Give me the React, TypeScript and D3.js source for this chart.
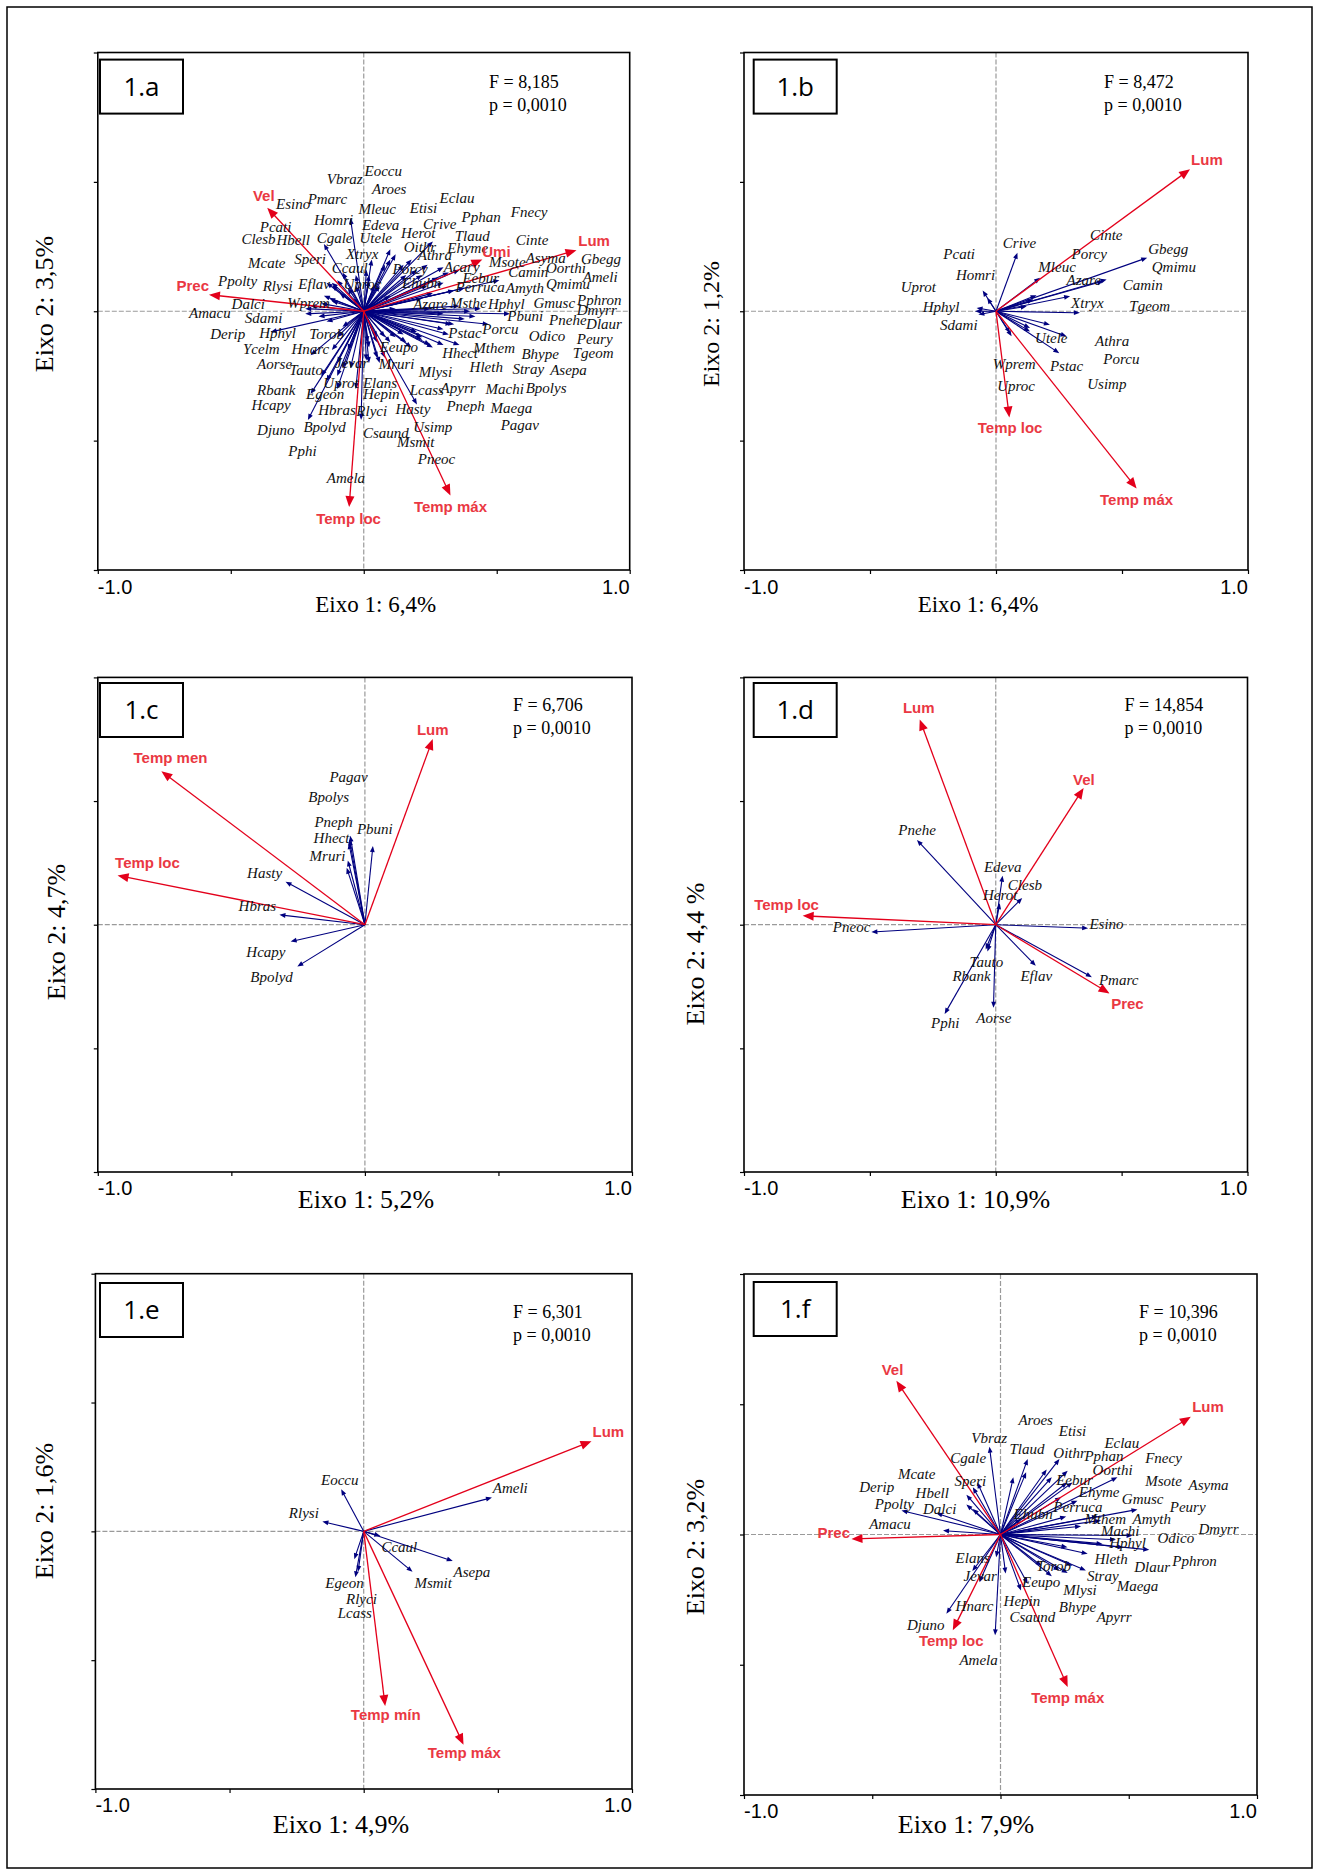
import React, { useRef, useEffect } from 'react';
import * as d3 from 'd3';

// [species, arrow x, arrow y, label x, label y] in axis units (-1..1)
type Sp = [string, number, number, number, number];
// [variable, arrow x, arrow y, label centre x, label centre y]
type Env = [string, number, number, number, number];

const spA: Sp[] = [
  ['Eoccu', 0.02, 0.12, 0.003, 0.542], ['Vbraz', -0.03, 0.14, -0.139, 0.514],
  ['Aroes', 0.04, 0.10, 0.031, 0.472], ['Esino', -0.10, 0.12, -0.330, 0.414],
  ['Pmarc', -0.08, 0.15, -0.211, 0.436], ['Mleuc', 0.01, 0.16, -0.020, 0.395],
  ['Homri', -0.05, 0.36, -0.187, 0.353], ['Edeva', 0.03, 0.20, -0.007, 0.334],
  ['Pcati', -0.12, 0.10, -0.391, 0.326], ['Clesb', -0.14, 0.11, -0.460, 0.281],
  ['Hbell', -0.15, 0.06, -0.328, 0.275], ['Cgale', -0.15, 0.26, -0.177, 0.285],
  ['Utele', 0.02, 0.14, -0.016, 0.283], ['Xtryx', -0.03, 0.10, -0.067, 0.223],
  ['Mcate', -0.13, 0.05, -0.435, 0.186], ['Speri', -0.09, 0.07, -0.261, 0.202],
  ['Ccaul', -0.06, 0.09, -0.120, 0.169], ['Ppolty', -0.16, 0.03, -0.548, 0.118],
  ['Rlysi', -0.12, 0.04, -0.380, 0.098], ['Eflav', -0.12, 0.11, -0.246, 0.107],
  ['Uproc', -0.04, 0.05, -0.076, 0.105], ['Dalci', -0.22, 0.01, -0.497, 0.030],
  ['Wprem', -0.20, 0.02, -0.288, 0.034], ['Amacu', -0.22, -0.01, -0.657, -0.005],
  ['Sdami', -0.17, -0.02, -0.447, -0.024], ['Derip', -0.14, -0.04, -0.577, -0.086],
  ['Hphyl', -0.35, -0.08, -0.393, -0.084], ['Torob', -0.08, -0.06, -0.205, -0.086],
  ['Ycelm', -0.10, -0.10, -0.454, -0.145], ['Hnarc', -0.20, -0.17, -0.272, -0.143],
  ['Aorse', -0.12, -0.15, -0.401, -0.202], ['Tauto', -0.10, -0.20, -0.280, -0.227],
  ['Jevar', -0.06, -0.15, -0.108, -0.198], ['Mruri', 0.02, -0.14, 0.056, -0.204],
  ['Eeupo', 0.05, -0.10, 0.060, -0.137], ['Rbank', -0.14, -0.27, -0.401, -0.304],
  ['Uprot', -0.10, -0.25, -0.152, -0.275], ['Elans', 0.01, -0.19, -0.003, -0.275],
  ['Egeon', -0.20, -0.32, -0.217, -0.320], ['Hepin', 0.015, -0.12, -0.003, -0.317],
  ['Hcapy', -0.16, -0.25, -0.422, -0.361], ['Hbras', -0.05, -0.22, -0.171, -0.381],
  ['Rlyci', -0.01, -0.42, -0.028, -0.384], ['Hasty', 0.20, -0.36, 0.119, -0.378],
  ['Djuno', -0.10, -0.30, -0.401, -0.459], ['Bpolyd', -0.21, -0.42, -0.227, -0.445],
  ['Csaund', 0.02, -0.20, -0.003, -0.468], ['Pphi', -0.08, -0.22, -0.284, -0.539],
  ['Amela', -0.03, -0.30, -0.139, -0.644], ['Usimp', 0.06, -0.20, 0.186, -0.445],
  ['Msmit', 0.05, -0.18, 0.125, -0.504], ['Pneoc', 0.08, -0.18, 0.203, -0.571],
  ['Lcass', 0.05, -0.12, 0.173, -0.304], ['Apyrr', 0.10, -0.12, 0.289, -0.297],
  ['Machi', 0.22, -0.10, 0.458, -0.300], ['Bpolys', 0.20, -0.08, 0.609, -0.294],
  ['Pneph', 0.12, -0.10, 0.311, -0.365], ['Maega', 0.16, -0.12, 0.477, -0.374],
  ['Pagav', 0.18, -0.14, 0.515, -0.439], ['Mlysi', 0.08, -0.10, 0.207, -0.234],
  ['Hleth', 0.15, -0.09, 0.398, -0.214], ['Stray', 0.22, -0.11, 0.559, -0.223],
  ['Asepa', 0.25, -0.13, 0.701, -0.227], ['Hhect', 0.30, -0.13, 0.295, -0.159],
  ['Mthem', 0.36, -0.13, 0.412, -0.140], ['Bhype', 0.26, -0.14, 0.593, -0.163],
  ['Tgeom', 0.30, -0.07, 0.786, -0.159], ['Odico', 0.34, -0.05, 0.620, -0.095],
  ['Peury', 0.32, -0.09, 0.801, -0.107], ['Pstac', 0.33, -0.05, 0.318, -0.082],
  ['Porcu', 0.47, -0.05, 0.446, -0.069], ['Pbuni', 0.55, -0.01, 0.540, -0.017],
  ['Pnehe', 0.42, -0.02, 0.697, -0.034], ['Dlaur', 0.38, -0.03, 0.836, -0.049],
  ['Azare', 0.12, 0.01, 0.186, 0.028], ['Msthe', 0.25, 0.01, 0.324, 0.034],
  ['Hphyl', 0.40, 0.00, 0.467, 0.028], ['Gmusc', 0.36, 0.02, 0.638, 0.034],
  ['Pphron', 0.44, 0.01, 0.802, 0.043], ['Dmyrr', 0.30, -0.01, 0.801, 0.005],
  ['Ehubn', 0.10, 0.06, 0.144, 0.111], ['Eebur', 0.26, 0.07, 0.371, 0.128],
  ['Perruca', 0.22, 0.05, 0.345, 0.095], ['Amyth', 0.51, 0.12, 0.534, 0.092],
  ['Qmimu', 0.34, 0.08, 0.685, 0.107], ['Ameli', 0.38, 0.09, 0.823, 0.133],
  ['Porcy', 0.06, 0.10, 0.108, 0.163], ['Acary', 0.24, 0.10, 0.301, 0.172],
  ['Camin', 0.30, 0.11, 0.543, 0.154], ['Oorthi', 0.28, 0.13, 0.685, 0.167],
  ['Athra', 0.16, 0.14, 0.203, 0.217], ['Msote', 0.32, 0.15, 0.471, 0.191],
  ['Asyma', 0.36, 0.16, 0.609, 0.208], ['Gbegg', 0.30, 0.17, 0.817, 0.202],
  ['Oithr', 0.26, 0.27, 0.150, 0.249], ['Ehyme', 0.22, 0.14, 0.314, 0.246],
  ['Cinte', 0.24, 0.18, 0.572, 0.275], ['Herot', 0.10, 0.20, 0.140, 0.304],
  ['Tlaud', 0.18, 0.20, 0.342, 0.290], ['Crive', 0.10, 0.24, 0.223, 0.339],
  ['Pphan', 0.15, 0.18, 0.368, 0.365], ['Etisi', 0.08, 0.18, 0.173, 0.401],
  ['Eclau', 0.12, 0.22, 0.285, 0.437], ['Fnecy', 0.20, 0.16, 0.553, 0.385],
];
const envA: Env[] = [
  ['Vel', -0.363, 0.40, -0.376, 0.446], ['Prec', -0.582, 0.064, -0.643, 0.098],
  ['Umi', 0.446, 0.20, 0.499, 0.230], ['Lum', 0.80, 0.236, 0.866, 0.272],
  ['Temp loc', -0.055, -0.757, -0.057, -0.802], ['Temp máx', 0.326, -0.712, 0.326, -0.755],
];

const spB: Sp[] = [
  ['Crive', 0.085, 0.226, 0.027, 0.265], ['Pcati', -0.035, 0.052, -0.209, 0.222],
  ['Homri', -0.053, 0.080, -0.159, 0.142], ['Uprot', -0.077, 0.013, -0.378, 0.094],
  ['Hphyl', -0.083, 0.0, -0.291, 0.019], ['Sdami', -0.070, -0.013, -0.222, -0.052],
  ['Cinte', 0.161, 0.062, 0.373, 0.295], ['Porcy', 0.148, 0.045, 0.300, 0.222],
  ['Mleuc', 0.175, 0.129, 0.168, 0.171], ['Azare', 0.426, 0.116, 0.280, 0.123],
  ['Gbegg', 0.600, 0.207, 0.604, 0.243], ['Qmimu', 0.439, 0.123, 0.618, 0.171],
  ['Camin', 0.294, 0.058, 0.503, 0.103], ['Xtryx', 0.122, 0.019, 0.298, 0.032],
  ['Tgeom', 0.333, -0.006, 0.529, 0.022], ['Utele', 0.214, -0.052, 0.155, -0.103],
  ['Athra', 0.280, -0.097, 0.393, -0.114], ['Porcu', 0.135, -0.065, 0.426, -0.183],
  ['Wprem', 0.062, -0.097, -0.013, -0.204], ['Pstac', 0.251, -0.162, 0.214, -0.209],
  ['Uproc', 0.056, -0.084, 0.005, -0.288], ['Usimp', 0.135, -0.078, 0.362, -0.280],
];
const envB: Env[] = [
  ['Lum', 0.770, 0.549, 0.837, 0.587], ['Temp loc', 0.053, -0.411, 0.056, -0.450],
  ['Temp máx', 0.558, -0.685, 0.558, -0.730],
];

const spC: Sp[] = [
  ['Pagav', -0.055, 0.36, -0.133, 0.597], ['Bpolys', -0.064, 0.26, -0.212, 0.517],
  ['Pneph', -0.058, 0.345, -0.189, 0.418], ['Pbuni', 0.030, 0.318, -0.030, 0.386],
  ['Hhect', -0.060, 0.33, -0.192, 0.350], ['Mruri', -0.068, 0.23, -0.207, 0.277],
  ['Hasty', -0.297, 0.174, -0.441, 0.210], ['Hbras', -0.320, 0.040, -0.473, 0.075],
  ['Hcapy', -0.278, -0.068, -0.444, -0.110], ['Bpolyd', -0.253, -0.169, -0.429, -0.210],
];
const envC: Env[] = [
  ['Lum', 0.254, 0.751, 0.254, 0.790], ['Temp men', -0.762, 0.621, -0.728, 0.676],
  ['Temp loc', -0.926, 0.199, -0.814, 0.249],
];

const spD: Sp[] = [
  ['Pnehe', -0.313, 0.343, -0.387, 0.385], ['Edeva', 0.027, 0.198, -0.047, 0.235],
  ['Clesb', 0.105, 0.108, 0.048, 0.163], ['Herot', 0.016, 0.087, -0.051, 0.123],
  ['Esino', 0.367, -0.014, 0.372, 0.004], ['Pneoc', -0.494, -0.030, -0.647, -0.010],
  ['Tauto', -0.033, -0.108, -0.104, -0.149], ['Rbank', -0.04, -0.10, -0.172, -0.205],
  ['Eflav', 0.159, -0.166, 0.098, -0.205], ['Pmarc', 0.382, -0.212, 0.410, -0.221],
  ['Pphi', -0.203, -0.361, -0.257, -0.397], ['Aorse', -0.009, -0.336, -0.077, -0.375],
];
const envD: Env[] = [
  ['Lum', -0.302, 0.830, -0.306, 0.877], ['Vel', 0.349, 0.553, 0.350, 0.587],
  ['Temp loc', -0.767, 0.036, -0.831, 0.082], ['Prec', 0.452, -0.278, 0.523, -0.320],
];

const spE: Sp[] = [
  ['Eoccu', -0.084, 0.163, -0.159, 0.200], ['Rlysi', -0.154, 0.038, -0.279, 0.072],
  ['Ameli', 0.478, 0.131, 0.481, 0.169], ['Ccaul', 0.062, -0.018, 0.066, -0.060],
  ['Asepa', 0.332, -0.115, 0.335, -0.157], ['Msmit', 0.182, -0.157, 0.189, -0.199],
  ['Egeon', -0.031, -0.178, -0.143, -0.201], ['Rlyci', -0.021, -0.157, -0.066, -0.261],
  ['Lcass', -0.035, -0.108, -0.097, -0.314],
];
const envE: Env[] = [
  ['Lum', 0.849, 0.350, 0.912, 0.388], ['Temp mín', 0.080, -0.678, 0.082, -0.713],
  ['Temp máx', 0.372, -0.828, 0.375, -0.861],
];

const spF: Sp[] = [
  ['Aroes', 0.05, 0.22, 0.070, 0.441], ['Vbraz', -0.043, 0.337, -0.114, 0.373],
  ['Tlaud', 0.106, 0.29, 0.035, 0.328], ['Cgale', -0.09, 0.20, -0.196, 0.294],
  ['Mcate', -0.133, 0.153, -0.400, 0.235], ['Speri', -0.108, 0.181, -0.179, 0.207],
  ['Derip', -0.133, 0.115, -0.551, 0.184], ['Hbell', -0.108, 0.098, -0.331, 0.160],
  ['Ppolty', -0.386, 0.092, -0.490, 0.118], ['Dalci', -0.250, 0.082, -0.302, 0.098],
  ['Amacu', -0.224, 0.015, -0.512, 0.041], ['Ehubn', 0.08, 0.06, 0.051, 0.079],
  ['Etisi', 0.10, 0.239, 0.227, 0.398], ['Eclau', 0.18, 0.25, 0.405, 0.354],
  ['Oithr', 0.230, 0.290, 0.206, 0.312], ['Pphan', 0.20, 0.22, 0.327, 0.303],
  ['Fnecy', 0.26, 0.20, 0.564, 0.296], ['Oorthi', 0.456, 0.220, 0.359, 0.248],
  ['Eebur', 0.262, 0.245, 0.217, 0.210], ['Msote', 0.281, 0.200, 0.564, 0.207],
  ['Asyma', 0.30, 0.13, 0.733, 0.192], ['Ehyme', 0.236, 0.143, 0.305, 0.166],
  ['Gmusc', 0.534, 0.096, 0.473, 0.137], ['Perruca', 0.256, 0.069, 0.206, 0.105],
  ['Peury', 0.392, 0.054, 0.660, 0.105], ['Mthem', 0.314, 0.032, 0.327, 0.060],
  ['Amyth', 0.38, 0.07, 0.515, 0.060], ['Dmyrr', 0.515, -0.004, 0.772, 0.022],
  ['Machi', 0.398, -0.036, 0.392, 0.013], ['Odico', 0.45, -0.02, 0.612, -0.013],
  ['Hphyl', 0.580, -0.059, 0.424, -0.033], ['Hleth', 0.340, -0.074, 0.366, -0.093],
  ['Pphron', 0.48, -0.05, 0.670, -0.100], ['Dlaur', 0.261, -0.049, 0.521, -0.125],
  ['Stray', 0.333, -0.138, 0.337, -0.157], ['Maega', 0.262, -0.148, 0.453, -0.195],
  ['Mlysi', 0.230, -0.138, 0.245, -0.212], ['Bhype', 0.20, -0.16, 0.227, -0.279],
  ['Apyrr', 0.28, -0.12, 0.375, -0.317], ['Elans', -0.017, -0.087, -0.175, -0.089],
  ['Jevar', -0.082, -0.183, -0.144, -0.157], ['Torob', 0.16, -0.12, 0.139, -0.119],
  ['Eeupo', 0.106, -0.189, 0.084, -0.183], ['Hnarc', -0.11, -0.14, -0.175, -0.272],
  ['Hepin', 0.080, -0.215, 0.012, -0.256], ['Csaund', 0.02, -0.15, 0.035, -0.314],
  ['Djuno', -0.211, -0.304, -0.365, -0.346], ['Amela', -0.021, -0.387, -0.160, -0.480],
];
const envF: Env[] = [
  ['Vel', -0.406, 0.590, -0.421, 0.631], ['Prec', -0.581, -0.017, -0.650, 0.008],
  ['Lum', 0.742, 0.452, 0.809, 0.490], ['Temp loc', -0.186, -0.368, -0.192, -0.409],
  ['Temp máx', 0.262, -0.585, 0.262, -0.625],
];

const tags = ['1.a', '1.b', '1.c', '1.d', '1.e', '1.f'];
const fStats = ['8,185', '8,472', '6,706', '14,854', '6,301', '10,396'];
const pStats = ['0,0010', '0,0010', '0,0010', '0,0010', '0,0010', '0,0010'];
const axis1Labels = ['Eixo 1: 6,4%', 'Eixo 1: 6,4%', 'Eixo 1: 5,2%', 'Eixo 1: 10,9%', 'Eixo 1: 4,9%', 'Eixo 1: 7,9%'];
const axis2Labels = ['Eixo 2: 3,5%', 'Eixo 2: 1,2%', 'Eixo 2: 4,7%', 'Eixo 2: 4,4 %', 'Eixo 2: 1,6%', 'Eixo 2: 3,2%'];
const tickVals = [-1, -0.5, 0, 0.5, 1];

// page layout (pixels)
const layout = [
  { box: [97.8, 52.5, 629.7, 570], tag: [100, 59.6], stat: [489, 88], tickY: 594, ax1: [375.7, 612], ax2: [44, 304], f1: 23, f2: 26 },
  { box: [744, 52.5, 1248, 570], tag: [753.7, 59.6], stat: [1104, 88], tickY: 594, ax1: [978, 612], ax2: [711, 324], f1: 23, f2: 24 },
  { box: [97.8, 677.4, 632, 1172], tag: [100, 683], stat: [513, 711], tickY: 1195, ax1: [366, 1208], ax2: [56, 932], f1: 26, f2: 26 },
  { box: [744, 677.4, 1247.5, 1172], tag: [753.7, 683], stat: [1124.6, 711], tickY: 1195, ax1: [975.5, 1208], ax2: [695, 954], f1: 26, f2: 26 },
  { box: [95.4, 1273.7, 632, 1789], tag: [100, 1283], stat: [513, 1318], tickY: 1812, ax1: [341, 1833], ax2: [44, 1511], f1: 26, f2: 26 },
  { box: [744, 1274, 1257, 1795], tag: [753.7, 1282], stat: [1139, 1318], tickY: 1818, ax1: [966, 1833], ax2: [695, 1547], f1: 26, f2: 26 },
];

const speciesSets = [spA, spB, spC, spD, spE, spF];
const envSets = [envA, envB, envC, envD, envE, envF];

const NAVY = '#00007f';
const RED = '#e3001b';
const RED_TXT = '#ea3843';
const SERIF = '"Liberation Serif", "Times New Roman", serif';
const SANS = '"Liberation Sans", Arial, sans-serif';

function drawArrow(g, x, y, ax, ay, color, headLen, headW, sw) {
  const x0 = x(0), y0 = y(0), tx = x(ax), ty = y(ay);
  const len = Math.hypot(tx - x0, ty - y0) || 1;
  const dx = (tx - x0) / len, dy = (ty - y0) / len;
  const bx = tx - dx * headLen, by = ty - dy * headLen;
  g.append('line')
    .attr('x1', x0).attr('y1', y0).attr('x2', bx + dx).attr('y2', by + dy)
    .attr('stroke', color).attr('stroke-width', sw);
  g.append('path')
    .attr('d', `M${tx},${ty}L${bx - dy * headW},${by + dx * headW}L${bx + dy * headW},${by - dx * headW}Z`)
    .attr('fill', color);
}

function drawPanel(svg, i) {
  const L = layout[i];
  const [x0, y0, x1, y1] = L.box;
  const x = d3.scaleLinear().domain([-1, 1]).range([x0, x1]);
  const y = d3.scaleLinear().domain([-1, 1]).range([y1, y0]);
  const g = svg.append('g');

  // zero lines
  g.append('line').attr('x1', x0).attr('x2', x1).attr('y1', y(0)).attr('y2', y(0))
    .attr('stroke', '#9a9a9a').attr('stroke-width', 1.2).attr('stroke-dasharray', '5 2');
  g.append('line').attr('x1', x(0)).attr('x2', x(0)).attr('y1', y0).attr('y2', y1)
    .attr('stroke', '#9a9a9a').attr('stroke-width', 1.2).attr('stroke-dasharray', '5 2');

  // ticks
  g.append('g').attr('transform', `translate(0,${y1})`)
    .call(d3.axisBottom(x).tickValues(tickVals).tickSize(4).tickFormat(() => ''))
    .call(a => a.select('.domain').remove())
    .call(a => a.selectAll('line').attr('stroke', '#000').attr('stroke-width', 1.2));
  g.append('g').attr('transform', `translate(${x0},0)`)
    .call(d3.axisLeft(y).tickValues(tickVals).tickSize(4).tickFormat(() => ''))
    .call(a => a.select('.domain').remove())
    .call(a => a.selectAll('line').attr('stroke', '#000').attr('stroke-width', 1.2));

  g.append('rect').attr('x', x0).attr('y', y0).attr('width', x1 - x0).attr('height', y1 - y0)
    .attr('fill', 'none').attr('stroke', '#000').attr('stroke-width', 1.6);

  // species arrows
  speciesSets[i].forEach(d => drawArrow(g, x, y, d[1], d[2], NAVY, 6, 2.4, 1.1));
  // environmental arrows
  envSets[i].forEach(d => drawArrow(g, x, y, d[1], d[2], RED, 11, 4.5, 1.3));

  // species labels
  g.append('g').selectAll('text').data(speciesSets[i]).enter().append('text')
    .attr('x', d => x(d[3])).attr('y', d => y(d[4])).attr('dy', '0.35em')
    .attr('font-family', SERIF).attr('font-style', 'italic').attr('font-size', 15)
    .attr('fill', '#111').text(d => d[0]);

  // environmental labels
  g.append('g').selectAll('text').data(envSets[i]).enter().append('text')
    .attr('x', d => x(d[3])).attr('y', d => y(d[4])).attr('dy', '0.35em')
    .attr('text-anchor', 'middle')
    .attr('font-family', SANS).attr('font-weight', 700).attr('font-size', 15)
    .attr('fill', RED_TXT).text(d => d[0]);

  // panel tag
  g.append('rect').attr('x', L.tag[0]).attr('y', L.tag[1]).attr('width', 83).attr('height', 54)
    .attr('fill', '#fff').attr('stroke', '#000').attr('stroke-width', 2);
  g.append('text').attr('x', L.tag[0] + 41.5).attr('y', L.tag[1] + 27).attr('dy', '0.35em')
    .attr('text-anchor', 'middle').attr('font-family', '"Open Sans", "Liberation Sans", sans-serif')
    .attr('font-size', 26).attr('fill', '#000').text(tags[i]);

  // statistics
  g.append('text').attr('x', L.stat[0]).attr('y', L.stat[1])
    .attr('font-family', SERIF).attr('font-size', 18).text(`F = ${fStats[i]}`);
  g.append('text').attr('x', L.stat[0]).attr('y', L.stat[1] + 22.5)
    .attr('font-family', SERIF).attr('font-size', 18).text(`p = ${pStats[i]}`);

  // axis end labels
  g.append('text').attr('x', x0).attr('y', L.tickY)
    .attr('font-family', SANS).attr('font-size', 20).text('-1.0');
  g.append('text').attr('x', x1).attr('y', L.tickY).attr('text-anchor', 'end')
    .attr('font-family', SANS).attr('font-size', 20).text('1.0');

  // axis titles
  g.append('text').attr('x', L.ax1[0]).attr('y', L.ax1[1]).attr('text-anchor', 'middle')
    .attr('font-family', SERIF).attr('font-size', L.f1).text(axis1Labels[i]);
  g.append('text').attr('transform', `translate(${L.ax2[0]},${L.ax2[1]}) rotate(-90)`)
    .attr('dy', '0.35em').attr('text-anchor', 'middle')
    .attr('font-family', SERIF).attr('font-size', L.f2).text(axis2Labels[i]);
}

export default function App() {
  const ref = useRef<SVGSVGElement>(null);

  useEffect(() => {
    if (!ref.current) return;
    const svg = d3.select(ref.current);
    svg.selectAll('*').remove();

    svg.append('rect').attr('x', 0).attr('y', 0).attr('width', 1319).attr('height', 1870).attr('fill', '#fff');
    svg.append('rect').attr('x', 7).attr('y', 7).attr('width', 1305).attr('height', 1861)
      .attr('fill', 'none').attr('stroke', '#000').attr('stroke-width', 1.5);

    layout.forEach((_, i) => drawPanel(svg, i));
  }, []);

  return (
    <svg ref={ref} width={1319} height={1870}
      style={{ position: 'absolute', left: 0, top: 0, display: 'block' }} />
  );
}
